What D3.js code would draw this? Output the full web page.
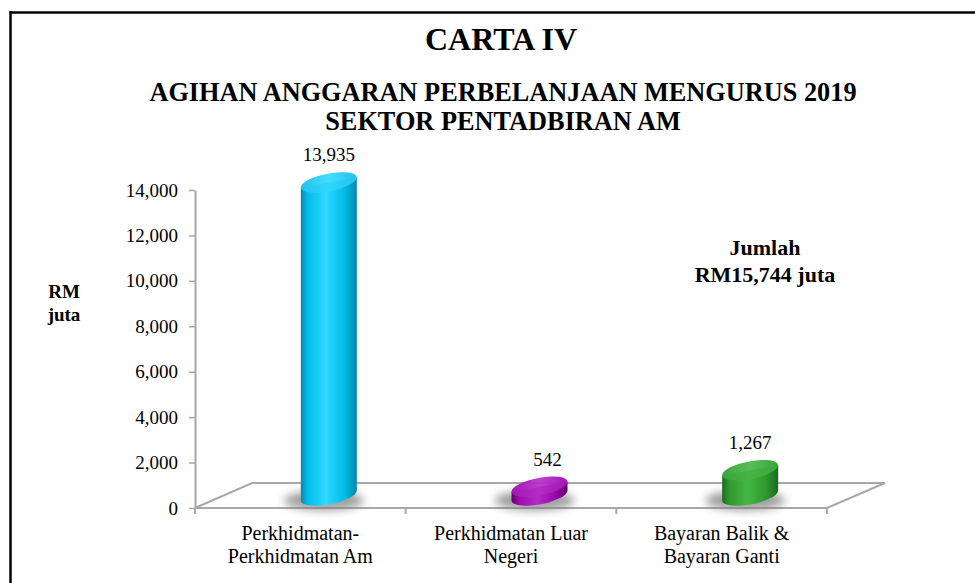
<!DOCTYPE html>
<html><head><meta charset="utf-8">
<script src="https://cdn.jsdelivr.net/npm/d3@7"></script>
<style>body{margin:0;background:#fff}svg{display:block}svg text{font-family:"Liberation Serif","Times New Roman","DejaVu Serif",Tinos,serif}</style>
</head><body><svg id="c" width="975" height="583"></svg>
<script>
const categories = ["Perkhidmatan-Perkhidmatan Am", "Perkhidmatan Luar Negeri", "Bayaran Balik & Bayaran Ganti"];
const categoryLines = [["Perkhidmatan-", "Perkhidmatan Am"], ["Perkhidmatan Luar", "Negeri"], ["Bayaran Balik &", "Bayaran Ganti"]];
const values = [13935, 542, 1267];
const valueLabels = ["13,935", "542", "1,267"];
const yTicks = [0, 2000, 4000, 6000, 8000, 10000, 12000, 14000];
const barColors = [
  {dark: "#0a86aa", light: "#2fd8ff", mid: "#00bde9", top: "#22c2ea"},
  {dark: "#5e0069", light: "#b42cc6", mid: "#9a08aa", top: "#a416b5"},
  {dark: "#1c6a1c", light: "#45b645", mid: "#2e982e", top: "#3aa63a"}
];
const titleLines = ["CARTA IV", "AGIHAN ANGGARAN PERBELANJAAN MENGURUS 2019", "SEKTOR PENTADBIRAN AM"];
const yAxisTitle = ["RM", "juta"];
const totalNote = ["Jumlah", "RM15,744 juta"];

const svg = d3.select("#c");
const defs = svg.append("defs");

// frame
svg.append("line").attr("x1", 10).attr("x2", 975).attr("y1", 12.5).attr("y2", 12.5).attr("stroke", "#000").attr("stroke-width", 2.5);
svg.append("line").attr("x1", 10.5).attr("x2", 10.5).attr("y1", 11).attr("y2", 583).attr("stroke", "#000").attr("stroke-width", 2.5);

// titles
svg.append("text").attr("x", 501).attr("y", 50).attr("text-anchor", "middle")
  .attr("font-weight", "bold").attr("font-size", 32).text(titleLines[0]);
svg.append("text").attr("x", 503).attr("y", 101).attr("text-anchor", "middle")
  .attr("font-weight", "bold").attr("font-size", 26.3).text(titleLines[1]);
svg.append("text").attr("x", 503).attr("y", 130).attr("text-anchor", "middle")
  .attr("font-weight", "bold").attr("font-size", 26.3).text(titleLines[2]);

// scales
const x0 = 195, x1 = 827, depthX = 57, depthY = -25;
const x = d3.scaleBand().domain(categories).range([x0, x1]).padding(0);
const y = d3.scaleLinear().domain([0, 14000]).range([508, 190]);

// floor
const floorStroke = "#a8a8a8";
const fl = svg.append("g").attr("fill", "none").attr("stroke", floorStroke).attr("stroke-width", 2);
fl.append("path").attr("d", `M${x0},${y(0)} L${x0 + depthX},${y(0) + depthY} L${x1 + depthX + 1},${y(0) + depthY} L${x1},${y(0)} Z`);
const bounds = categories.map(c => x(c)).concat([x.range()[1]]);
fl.selectAll("line.ct").data(bounds).join("line").attr("class", "ct")
  .attr("x1", d => d).attr("x2", d => d).attr("y1", y(0)).attr("y2", y(0) + 6);

// y axis
const yAxis = svg.append("g").attr("transform", `translate(${x0},0)`)
  .call(d3.axisLeft(y).tickValues(yTicks).tickFormat(d3.format(",")).tickSize(6).tickSizeOuter(0).tickPadding(11));
yAxis.attr("font-family", null);
yAxis.select(".domain").attr("stroke", floorStroke).attr("stroke-width", 2);
yAxis.selectAll(".tick line").attr("stroke", floorStroke).attr("stroke-width", 1.5);
yAxis.selectAll(".tick text").attr("font-size", 19).attr("fill", "#000");

// y title
const yt = svg.append("text").attr("font-weight", "bold").attr("font-size", 19).attr("text-anchor", "middle");
yt.append("tspan").attr("x", 64).attr("y", 298).text(yAxisTitle[0]);
yt.append("tspan").attr("x", 64).attr("y", 321).text(yAxisTitle[1]);

// total note
const tn = svg.append("text").attr("font-weight", "bold").attr("font-size", 22).attr("text-anchor", "middle");
tn.append("tspan").attr("x", 765).attr("y", 255).text(totalNote[0]);
tn.append("tspan").attr("x", 765).attr("y", 282).text(totalNote[1]);

// shadow filter
const f = defs.append("filter").attr("id", "blur").attr("x", "-50%").attr("y", "-100%").attr("width", "200%").attr("height", "300%");
f.append("feGaussianBlur").attr("stdDeviation", 4);

// gradients
barColors.forEach((c, i) => {
  const g = defs.append("linearGradient").attr("id", "g" + i).attr("x1", 0).attr("x2", 1).attr("y1", 0).attr("y2", 0);
  g.append("stop").attr("offset", "0%").attr("stop-color", c.dark);
  g.append("stop").attr("offset", "12%").attr("stop-color", c.mid);
  g.append("stop").attr("offset", "45%").attr("stop-color", c.light);
  g.append("stop").attr("offset", "78%").attr("stop-color", c.mid);
  g.append("stop").attr("offset", "100%").attr("stop-color", c.dark);
  const t = defs.append("linearGradient").attr("id", "t" + i).attr("x1", 0).attr("x2", 1).attr("y1", 0).attr("y2", 0);
  t.append("stop").attr("offset", "0%").attr("stop-color", c.top);
  t.append("stop").attr("offset", "50%").attr("stop-color", c.light).attr("stop-opacity", 0.9);
  t.append("stop").attr("offset", "100%").attr("stop-color", c.top);
});

// bars (cylinders at mid depth)
const rx = 28, ry = 9, tilt = -10;
const baseY = y(0) + depthY / 2;
const cx = c => x(c) + x.bandwidth() / 2 + depthX / 2;
const topY = v => y(v) - 9;

const bars = svg.append("g").selectAll("g.bar").data(categories).join("g").attr("class", "bar");
bars.append("ellipse").attr("cx", c => cx(c) - 5).attr("cy", baseY + 5).attr("rx", rx + 12).attr("ry", ry + 1)
  .attr("fill", "#777").attr("opacity", 0.7).attr("filter", "url(#blur)");
const cyl = bars.append("g").attr("transform", c => `translate(${cx(c)},${baseY}) skewY(${tilt})`);
cyl.append("path").attr("fill", (c, i) => `url(#g${i})`)
  .attr("d", (c, i) => {
    const h = baseY - topY(values[i]);
    return `M${-rx},${-h} L${-rx},0 A${rx},${ry} 0 0 0 ${rx},0 L${rx},${-h} Z`;
  });
cyl.append("ellipse").attr("cx", 0).attr("cy", (c, i) => -(baseY - topY(values[i])))
  .attr("rx", rx).attr("ry", ry).attr("fill", (c, i) => `url(#t${i})`);

// value labels
svg.append("g").selectAll("text").data(categories).join("text")
  .attr("x", c => cx(c) + (c === categories[1] ? 8 : 0))
  .attr("y", (c, i) => topY(values[i]) - ry - 12)
  .attr("text-anchor", "middle").attr("font-size", 19)
  .text((c, i) => valueLabels[i]);

// category labels
const cl = svg.append("g").selectAll("text").data(categories).join("text")
  .attr("text-anchor", "middle").attr("font-size", 20);
cl.each(function (c, i) {
  const t = d3.select(this);
  categoryLines[i].forEach((ln, j) => {
    t.append("tspan").attr("x", x(c) + x.bandwidth() / 2).attr("y", 540 + j * 22.5).text(ln);
  });
});
</script></body></html>
